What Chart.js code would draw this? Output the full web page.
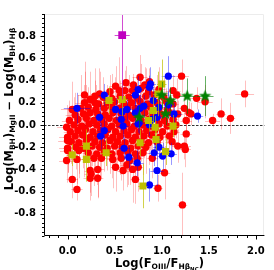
<!DOCTYPE html>
<html>
<head>
<meta charset="utf-8">
<script src="https://cdn.jsdelivr.net/npm/chart.js@4.4.1/dist/chart.umd.min.js"></script>
<style>
  html, body { margin: 0; padding: 0; background: #fff; }
</style>
</head>
<body>
<canvas id="grafico" width="274" height="270"></canvas>
<script>
// Limites e rótulos dos eixos
const xMin = -0.25, xMax = 2.09;
const yMin = -1.0, yMax = 1.0;
const xTicks = [0.0, 0.5, 1.0, 1.5, 2.0];
const yTicks = [-0.8, -0.6, -0.4, -0.2, 0.0, 0.2, 0.4, 0.6, 0.8];

// Pontos vermelhos (maioria da amostra)
const redX = [
  0.62, 0.77, 0.87, 0.51,
  0.29, 0.34, 0.45, 0.55, 0.61, 0.69, 0.78, 0.86, 0.97, 1.12, 0.70, 0.82,
  0.18, 0.24, 0.38, 0.47, 0.56, 0.65, 0.74, 0.83, 0.92, 1.02, 1.16,
  0.18, 0.29, 0.33, 0.42, 0.50, 0.60, 0.68, 0.77, 0.85, 0.95, 1.05, 1.12,
  0.05, 0.14, 0.22, 0.30, 0.39, 0.47, 0.55, 0.64, 0.72, 0.80, 0.88, 0.97, 1.06, 1.24,
  0.08, 0.17, 0.24, 0.32, 0.40, 0.48, 0.57, 0.65, 0.73, 0.82, 0.90, 0.99, 1.08, 1.17, 1.29,
  0.02, 0.11, 0.20, 0.28, 0.36, 0.44, 0.52, 0.61, 0.69, 0.78, 0.86, 0.95, 1.03, 1.12, 1.26,
  -0.01, 0.07, 0.15, 0.23, 0.31, 0.39, 0.47, 0.55, 0.63, 0.71, 0.80, 0.88, 0.97, 1.06, 1.15,
  0.03, 0.11, 0.19, 0.27, 0.35, 0.43, 0.51, 0.60, 0.68, 0.76, 0.84, 0.93, 1.01, 1.13, 1.26,
  0.00, 0.08, 0.16, 0.24, 0.32, 0.40, 0.48, 0.56, 0.64, 0.72, 0.81, 0.89, 0.98, 1.08,
  0.04, 0.12, 0.20, 0.29, 0.37, 0.45, 0.53, 0.61, 0.69, 0.78, 0.86, 0.95, 1.11, 0.00,
  0.00, 0.09, 0.17, 0.26, 0.34, 0.42, 0.50, 0.58, 0.67, 0.75, 0.83, 1.17, 1.24,
  0.12, 0.22, 0.31, 0.39, 0.47, 0.56, 0.64, 0.72, 0.80, 1.25, 0.00,
  -0.01, 0.10, 0.28, 0.36, 0.48, 0.57, 0.66, 0.74, 0.90,
  0.24, 0.32, 0.51, 0.59, 0.63, 0.69, 0.75, 1.03, 0.25,
  0.05, 0.24, 0.32, 0.72, 0.10, 0.96, 1.22,
  1.21, 1.37, 1.46, 1.54, 1.63, 1.73, 1.88, 1.31
];
const redY = [
  0.38, 0.43, 0.39, 0.35,
  0.26, 0.28, 0.30, 0.31, 0.31, 0.31, 0.33, 0.30, 0.32, 0.31, 0.36, 0.36,
  0.27, 0.23, 0.25, 0.24, 0.26, 0.25, 0.24, 0.26, 0.27, 0.25, 0.27,
  0.20, 0.20, 0.19, 0.20, 0.21, 0.19, 0.20, 0.21, 0.19, 0.20, 0.21, 0.19,
  0.14, 0.15, 0.16, 0.14, 0.15, 0.16, 0.15, 0.16, 0.15, 0.14, 0.16, 0.15, 0.14, 0.15,
  0.09, 0.10, 0.11, 0.10, 0.09, 0.11, 0.10, 0.09, 0.10, 0.11, 0.09, 0.10, 0.11, 0.10, 0.11,
  0.04, 0.05, 0.06, 0.04, 0.05, 0.06, 0.04, 0.05, 0.06, 0.04, 0.05, 0.06, 0.04, 0.05, 0.04,
  -0.02, 0.00, -0.01, 0.01, 0.00, 0.01, -0.01, 0.00, 0.01, -0.01, 0.00, -0.01, 0.01, -0.01, 0.00,
  -0.06, -0.05, -0.04, -0.06, -0.05, -0.04, -0.06, -0.05, -0.04, -0.06, -0.05, -0.04, -0.06, -0.06, -0.08,
  -0.11, -0.10, -0.09, -0.11, -0.10, -0.09, -0.11, -0.10, -0.09, -0.11, -0.10, -0.09, -0.11, -0.10,
  -0.15, -0.16, -0.14, -0.15, -0.16, -0.14, -0.15, -0.16, -0.14, -0.15, -0.16, -0.15, -0.15, -0.14,
  -0.21, -0.20, -0.21, -0.19, -0.20, -0.21, -0.19, -0.20, -0.21, -0.19, -0.20, -0.19, -0.19,
  -0.23, -0.25, -0.26, -0.24, -0.26, -0.25, -0.24, -0.26, -0.25, -0.22, -0.23,
  -0.32, -0.31, -0.30, -0.30, -0.31, -0.30, -0.32, -0.30, -0.30,
  -0.41, -0.40, -0.38, -0.41, -0.36, -0.40, -0.38, -0.43, -0.44,
  -0.49, -0.48, -0.48, -0.49, -0.58, -0.57, -0.72,
  0.44, 0.24, 0.21, 0.04, 0.10, 0.06, 0.28, 0.10
];
const redXErr = [
  0.06, 0.08, 0.05, 0.07,
  0.08, 0.06, 0.05, 0.07, 0.09, 0.05, 0.06, 0.10, 0.07, 0.08, 0.05, 0.06,
  0.07, 0.05, 0.06, 0.08, 0.05, 0.07, 0.06, 0.05, 0.09, 0.06, 0.07,
  0.10, 0.06, 0.05, 0.07, 0.06, 0.08, 0.05, 0.06, 0.07, 0.05, 0.08, 0.06,
  0.12, 0.08, 0.06, 0.05, 0.07, 0.06, 0.05, 0.08, 0.06, 0.05, 0.07, 0.06, 0.08, 0.06,
  0.10, 0.07, 0.06, 0.05, 0.08, 0.06, 0.05, 0.07, 0.06, 0.05, 0.06, 0.07, 0.05, 0.06, 0.05,
  0.08, 0.10, 0.06, 0.07, 0.05, 0.06, 0.08, 0.05, 0.06, 0.07, 0.05, 0.06, 0.07, 0.05, 0.06,
  0.10, 0.07, 0.08, 0.06, 0.05, 0.07, 0.06, 0.05, 0.08, 0.06, 0.05, 0.07, 0.06, 0.05, 0.07,
  0.07, 0.06, 0.08, 0.05, 0.06, 0.07, 0.05, 0.06, 0.07, 0.05, 0.06, 0.05, 0.07, 0.06, 0.06,
  0.09, 0.07, 0.06, 0.08, 0.05, 0.06, 0.07, 0.05, 0.06, 0.07, 0.05, 0.06, 0.08, 0.06,
  0.08, 0.06, 0.07, 0.05, 0.08, 0.06, 0.05, 0.07, 0.06, 0.05, 0.07, 0.06, 0.07, 0.10,
  0.09, 0.07, 0.06, 0.08, 0.05, 0.06, 0.07, 0.05, 0.06, 0.07, 0.05, 0.06, 0.07,
  0.08, 0.06, 0.07, 0.05, 0.06, 0.07, 0.05, 0.06, 0.07, 0.06, 0.08,
  0.08, 0.07, 0.06, 0.08, 0.06, 0.05, 0.07, 0.06, 0.06,
  0.06, 0.07, 0.05, 0.06, 0.07, 0.06, 0.05, 0.06, 0.07,
  0.06, 0.07, 0.06, 0.05, 0.06, 0.05, 0.05,
  0.08, 0.07, 0.08, 0.08, 0.05, 0.05, 0.10, 0.06
];
const redYErr = [
  0.15, 0.20, 0.12, 0.18,
  0.25, 0.20, 0.15, 0.30, 0.18, 0.12, 0.22, 0.15, 0.20, 0.14, 0.10, 0.16,
  0.30, 0.25, 0.18, 0.22, 0.14, 0.20, 0.16, 0.25, 0.12, 0.18, 0.15,
  0.28, 0.20, 0.32, 0.16, 0.22, 0.18, 0.15, 0.20, 0.14, 0.25, 0.12, 0.15,
  0.25, 0.30, 0.18, 0.22, 0.16, 0.20, 0.14, 0.25, 0.18, 0.12, 0.20, 0.16, 0.15, 0.14,
  0.20, 0.26, 0.15, 0.20, 0.18, 0.22, 0.14, 0.16, 0.20, 0.12, 0.18, 0.15, 0.14, 0.12, 0.10,
  0.18, 0.22, 0.30, 0.16, 0.20, 0.14, 0.18, 0.22, 0.15, 0.20, 0.12, 0.16, 0.18, 0.14, 0.10,
  0.20, 0.25, 0.18, 0.22, 0.16, 0.20, 0.30, 0.14, 0.18, 0.20, 0.15, 0.22, 0.14, 0.16, 0.12,
  0.22, 0.18, 0.25, 0.20, 0.16, 0.22, 0.18, 0.14, 0.20, 0.16, 0.18, 0.20, 0.15, 0.12, 0.14,
  0.25, 0.20, 0.30, 0.18, 0.22, 0.16, 0.20, 0.25, 0.14, 0.18, 0.20, 0.16, 0.15, 0.14,
  0.20, 0.28, 0.18, 0.22, 0.16, 0.30, 0.20, 0.14, 0.22, 0.18, 0.20, 0.16, 0.14, 0.20,
  0.22, 0.20, 0.26, 0.18, 0.30, 0.20, 0.16, 0.22, 0.18, 0.20, 0.24, 0.15, 0.12,
  0.25, 0.20, 0.28, 0.18, 0.22, 0.20, 0.30, 0.18, 0.20, 0.16, 0.20,
  0.20, 0.22, 0.25, 0.18, 0.26, 0.20, 0.22, 0.20, 0.18,
  0.20, 0.25, 0.22, 0.18, 0.20, 0.30, 0.22, 0.24, 0.20,
  0.17, 0.20, 0.18, 0.22, 0.10, 0.12, 0.29,
  0.15, 0.10, 0.15, 0.06, 0.14, 0.14, 0.12, 0.10
];

// Pontos azuis
const blueX = [0.10, 0.39, 0.34, 0.51, 0.58, 0.63, 0.57, 0.59, 0.39, 0.35, 0.60, 0.65, 0.74, 0.87, 0.75, 0.72, 0.72, 0.77, 0.81,
  0.76, 0.91, 0.88, 0.90, 0.92, 1.07, 0.87, 0.97, 1.07, 1.13, 1.38, 0.75, 0.95, 0.87, 0.97, 1.01, 1.10, 0.95];
const blueY = [0.15, 0.27, 0.07, 0.14, 0.12, 0.14, 0.05, -0.01, -0.05, -0.10, -0.21, -0.29, -0.34, -0.54, 0.32, 0.27, 0.11, 0.15, 0.17,
  0.02, 0.22, 0.37, 0.05, -0.25, 0.44, 0.34, 0.16, 0.18, 0.10, 0.08, 0.01, 0.07, 0.00, -0.20, -0.28, -0.26, -0.41];
const blueXErr = [0.14, 0.06, 0.05, 0.06, 0.05, 0.06, 0.05, 0.06, 0.07, 0.05, 0.06, 0.05, 0.07, 0.06, 0.05, 0.06, 0.05, 0.06, 0.05,
  0.06, 0.05, 0.06, 0.05, 0.06, 0.07, 0.05, 0.06, 0.05, 0.08, 0.06, 0.05, 0.06, 0.05, 0.06, 0.05, 0.06, 0.07];
const blueYErr = [0.14, 0.10, 0.12, 0.10, 0.12, 0.10, 0.10, 0.12, 0.10, 0.12, 0.10, 0.10, 0.12, 0.15, 0.12, 0.10, 0.10, 0.12, 0.10,
  0.10, 0.12, 0.15, 0.10, 0.12, 0.18, 0.10, 0.10, 0.12, 0.10, 0.06, 0.08, 0.10, 0.10, 0.10, 0.12, 0.10, 0.14];

// Quadrados amarelos
const yellowX = [0.44, 0.58, 0.20, 0.05, 0.20, 0.41, 0.77, 0.80, 0.86, 0.91, 1.00, 0.96, 0.94, 1.12, 0.93, 1.04];
const yellowY = [0.22, 0.23, -0.19, -0.27, -0.31, -0.25, -0.16, -0.55, 0.04, 0.13, 0.37, 0.28, -0.13, -0.01, -0.02, -0.24];
const yellowXErr = [0.05, 0.06, 0.06, 0.06, 0.05, 0.06, 0.05, 0.05, 0.05, 0.05, 0.05, 0.05, 0.05, 0.06, 0.05, 0.05];
const yellowYErr = [0.12, 0.15, 0.15, 0.10, 0.20, 0.12, 0.12, 0.20, 0.10, 0.12, 0.22, 0.20, 0.10, 0.10, 0.10, 0.12];

// Estrelas verdes
const starX = [0.76, 1.00, 1.09, 1.04, 1.27, 1.46];
const starY = [0.07, 0.27, 0.22, 0.10, 0.26, 0.26];
const starXErr = [0.06, 0.06, 0.06, 0.05, 0.09, 0.09];
const starYErr = [0.10, 0.12, 0.12, 0.10, 0.16, 0.18];

// Quadrado magenta
const magX = [0.58];
const magY = [0.81];
const magXErr = [0.08];
const magYErr = [0.58];

const fonte = "'DejaVu Sans', sans-serif";

function pontos(xs, ys) {
  return xs.map((x, i) => ({ x: x, y: ys[i] }));
}

// Estrela cheia de 5 pontas como imagem de marcador
function estrela(cor, r) {
  const c = document.createElement('canvas');
  const s = Math.ceil(r * 2 + 2);
  c.width = s; c.height = s;
  const g = c.getContext('2d');
  g.translate(s / 2, s / 2);
  g.beginPath();
  for (let k = 0; k < 10; k++) {
    const rr = k % 2 ? r * 0.42 : r;
    const a = -Math.PI / 2 + k * Math.PI / 5;
    g.lineTo(rr * Math.cos(a), rr * Math.sin(a));
  }
  g.closePath();
  g.fillStyle = cor;
  g.fill();
  return c;
}

// Barras de erro desenhadas antes de cada conjunto
const barrasErro = {
  id: 'barrasErro',
  beforeDatasetDraw(chart, args) {
    const ds = chart.data.datasets[args.index];
    if (!ds.xErr) return;
    const { ctx, chartArea: a, scales: { x, y } } = chart;
    ctx.save();
    ctx.beginPath();
    ctx.rect(a.left, a.top, a.right - a.left, a.bottom - a.top);
    ctx.clip();
    ctx.strokeStyle = ds.corErro;
    ctx.lineWidth = 1;
    ds.data.forEach((p, i) => {
      const px = Math.round(x.getPixelForValue(p.x)) + 0.5;
      const py = Math.round(y.getPixelForValue(p.y)) + 0.5;
      ctx.beginPath();
      ctx.moveTo(x.getPixelForValue(p.x - ds.xErr[i]), py);
      ctx.lineTo(x.getPixelForValue(p.x + ds.xErr[i]), py);
      ctx.stroke();
      ctx.beginPath();
      ctx.moveTo(px, y.getPixelForValue(p.y - ds.yErr[i]));
      ctx.lineTo(px, y.getPixelForValue(p.y + ds.yErr[i]));
      ctx.stroke();
    });
    ctx.restore();
  }
};

// Linha pontilhada em y = 0
const linhaZero = {
  id: 'linhaZero',
  beforeDatasetsDraw(chart) {
    const { ctx, chartArea: a, scales: { y } } = chart;
    const py = Math.round(y.getPixelForValue(0)) + 0.5;
    ctx.save();
    ctx.strokeStyle = '#333';
    ctx.lineWidth = 1;
    ctx.setLineDash([2.5, 1.5]);
    ctx.beginPath();
    ctx.moveTo(a.left, py);
    ctx.lineTo(a.right, py);
    ctx.stroke();
    ctx.restore();
  }
};

// Texto com subscritos: [texto, nivel]
function textoComIndices(ctx, partes, x, y) {
  const estilos = [{ size: 11.5, dy: 0 }, { size: 7.5, dy: 2 }, { size: 5.5, dy: 3.5 }];
  let total = 0;
  partes.forEach(([t, n]) => {
    ctx.font = `bold ${estilos[n].size}px ${fonte}`;
    total += ctx.measureText(t).width;
  });
  let cx = x - total / 2;
  partes.forEach(([t, n]) => {
    ctx.font = `bold ${estilos[n].size}px ${fonte}`;
    ctx.fillText(t, cx, y + estilos[n].dy);
    cx += ctx.measureText(t).width;
  });
}

// Eixos, marcas e títulos
const eixos = {
  id: 'eixos',
  afterDraw(chart) {
    const { ctx, chartArea: a, scales: { x, y } } = chart;
    const esq = Math.floor(a.left) + 0.5;
    const base = Math.round(a.bottom) - 0.5;
    ctx.save();
    // moldura clara em cima e à direita
    ctx.strokeStyle = '#ececec';
    ctx.lineWidth = 1;
    ctx.beginPath();
    ctx.moveTo(esq, a.top + 0.5);
    ctx.lineTo(Math.round(a.right) - 0.5, a.top + 0.5);
    ctx.lineTo(Math.round(a.right) - 0.5, base);
    ctx.stroke();

    ctx.strokeStyle = '#000';
    ctx.beginPath();
    ctx.moveTo(esq, a.top);
    ctx.lineTo(esq, base);
    ctx.lineTo(a.right, base);
    ctx.stroke();

    // marcas do eixo y
    ctx.beginPath();
    for (let k = 0; k <= 50; k++) {
      const v = yMin + k * 0.04;
      const maior = yTicks.some(t => Math.abs(t - v) < 1e-6);
      const py = Math.round(y.getPixelForValue(v)) + 0.5;
      ctx.moveTo(esq, py);
      ctx.lineTo(esq - (maior ? 4 : 2.5), py);
    }
    // marcas do eixo x
    for (let k = -2; k <= 20; k++) {
      const v = k * 0.1;
      const maior = xTicks.some(t => Math.abs(t - v) < 1e-6);
      const px = Math.round(x.getPixelForValue(v)) + 0.5;
      ctx.moveTo(px, base);
      ctx.lineTo(px, base + (maior ? 4 : 2.5));
    }
    ctx.stroke();

    // títulos
    ctx.fillStyle = '#000';
    ctx.textBaseline = 'alphabetic';
    textoComIndices(ctx, [['Log(F', 0], ['OIII', 1], ['/F', 0], ['Hβ', 1], ['NC', 2], [')', 0]], 159.5, 267);
    ctx.translate(13, 109);
    ctx.rotate(-Math.PI / 2);
    textoComIndices(ctx, [['Log(M', 0], ['BH', 1], [')', 0], ['MgII', 1], [' − Log(M', 0], ['BH', 1], [')', 0], ['Hβ', 1]], 0, 0);
    ctx.restore();
  }
};

const fonteTicks = { family: fonte, size: 10, weight: 'bold' };
const rotulo = v => (Math.round(v * 10) / 10).toFixed(1);

new Chart(document.getElementById('grafico'), {
  type: 'scatter',
  data: {
    datasets: [
      { data: pontos(magX, magY), xErr: magXErr, yErr: magYErr, corErro: 'rgba(191,0,191,0.7)',
        backgroundColor: '#bf00bf', borderWidth: 0, pointStyle: 'rect', pointRadius: 5.5 },
      { data: pontos(starX, starY), xErr: starXErr, yErr: starYErr, corErro: 'rgba(0,128,0,0.6)',
        pointStyle: estrela('#008000', 6.5) },
      { data: pontos(yellowX, yellowY), xErr: yellowXErr, yErr: yellowYErr, corErro: 'rgba(191,191,0,0.7)',
        backgroundColor: '#bfbf00', borderWidth: 0, pointStyle: 'rect', pointRadius: 5 },
      { data: pontos(blueX, blueY), xErr: blueXErr, yErr: blueYErr, corErro: 'rgba(0,0,255,0.4)',
        backgroundColor: '#0000ff', borderWidth: 0, pointRadius: 3.6 },
      { data: pontos(redX, redY), xErr: redXErr, yErr: redYErr, corErro: 'rgba(255,0,0,0.25)',
        backgroundColor: '#ff0000', borderWidth: 0, pointRadius: 3.7 }
    ]
  },
  options: {
    responsive: false,
    animation: false,
    events: [],
    layout: { padding: { top: 1, right: 2, left: 0, bottom: 0 } },
    plugins: { legend: { display: false }, tooltip: { enabled: false } },
    scales: {
      x: {
        type: 'linear', min: xMin, max: xMax,
        grid: { display: false, drawTicks: false },
        border: { display: false },
        afterBuildTicks: s => { s.ticks = xTicks.map(v => ({ value: v })); },
        afterFit: s => { s.height = 34; },
        ticks: { font: fonteTicks, color: '#000', padding: 9, maxRotation: 0, autoSkip: false, callback: rotulo }
      },
      y: {
        type: 'linear', min: yMin, max: yMax,
        grid: { display: false, drawTicks: false },
        border: { display: false },
        afterBuildTicks: s => { s.ticks = yTicks.map(v => ({ value: v })); },
        afterFit: s => { s.width = 44; },
        ticks: { font: fonteTicks, color: '#000', padding: 8, autoSkip: false, callback: rotulo }
      }
    }
  },
  plugins: [linhaZero, barrasErro, eixos]
});
</script>
</body>
</html>
